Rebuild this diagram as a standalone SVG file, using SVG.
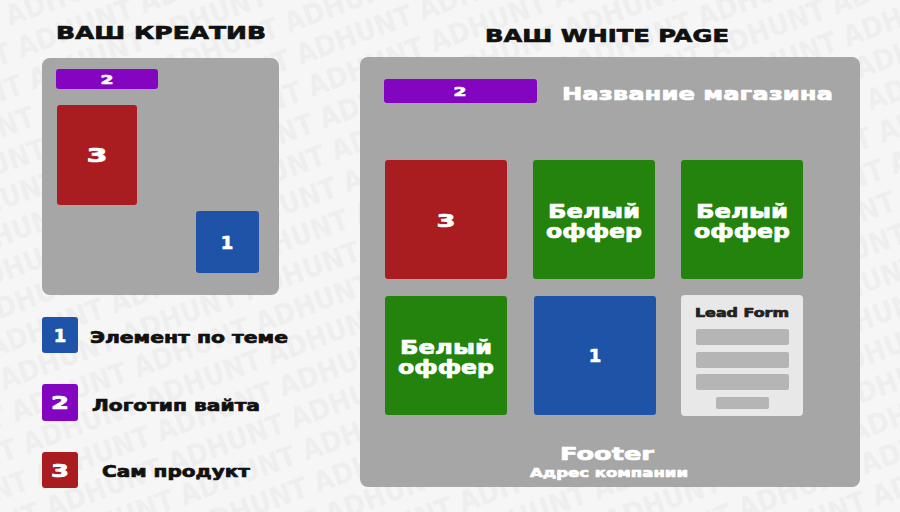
<svg xmlns="http://www.w3.org/2000/svg" width="900" height="512" viewBox="0 0 900 512">
<defs>
<pattern id="wm" width="130" height="34" patternUnits="userSpaceOnUse" patternTransform="rotate(-20)">
<text x="0" y="28" font-family="DejaVu Sans, sans-serif" font-weight="bold" font-size="28" fill="#eeeeee" textLength="122" lengthAdjust="spacingAndGlyphs">ADHUNT</text>
</pattern>
<style>
.t{font-family:"DejaVu Sans","Liberation Sans",sans-serif;font-weight:bold;stroke-width:0.7;stroke-linejoin:round;}
.w{fill:#ffffff;stroke:#ffffff;}
.k{fill:#111111;stroke:#111111;}
.panel{fill:#a6a6a6;}
.pur{fill:#8305bf;}
.red{fill:#a91c20;}
.grn{fill:#23830d;}
.blu{fill:#1f53a8;}
.fld{fill:#b5b5b5;}
</style>
</defs>
<rect width="900" height="512" fill="#f6f6f6"/>
<rect width="900" height="512" fill="url(#wm)"/>

<g id="title-left"><text class="t k" x="56" y="39" font-size="18" textLength="210" lengthAdjust="spacingAndGlyphs">ВАШ КРЕАТИВ</text></g>
<g id="title-right"><text class="t k" x="485" y="42" font-size="18" textLength="244" lengthAdjust="spacingAndGlyphs">ВАШ WHITE PAGE</text></g>

<g id="creative">
<rect class="panel" x="42" y="58" width="237" height="237" rx="8"/>
<g id="c-logo"><rect class="pur" x="56" y="69" width="102" height="20" rx="3"/><text class="t w" x="107" y="84" font-size="13" text-anchor="middle" textLength="13" lengthAdjust="spacingAndGlyphs">2</text></g>
<g id="c-product"><rect class="red" x="57" y="105" width="80" height="100" rx="3"/><text class="t w" x="97" y="162" font-size="20" text-anchor="middle" textLength="21" lengthAdjust="spacingAndGlyphs">3</text></g>
<g id="c-element"><rect class="blu" x="196" y="211" width="63" height="62" rx="3"/><text class="t w" x="227" y="249" font-size="18" text-anchor="middle">1</text></g>
</g>

<g id="legend">
<g id="leg1"><rect class="blu" x="42" y="317" width="36" height="36" rx="3"/><text class="t w" x="60" y="342" font-size="18" text-anchor="middle">1</text><text class="t k" x="90" y="343" font-size="15" textLength="198" lengthAdjust="spacingAndGlyphs">Элемент по теме</text></g>
<g id="leg2"><rect class="pur" x="42" y="384" width="36" height="37" rx="3"/><text class="t w" x="60" y="409" font-size="18" text-anchor="middle" textLength="18" lengthAdjust="spacingAndGlyphs">2</text><text class="t k" x="92" y="411" font-size="15" textLength="168" lengthAdjust="spacingAndGlyphs">Логотип вайта</text></g>
<g id="leg3"><rect class="red" x="42" y="452" width="36" height="36" rx="3"/><text class="t w" x="60" y="477" font-size="18" text-anchor="middle" textLength="18" lengthAdjust="spacingAndGlyphs">3</text><text class="t k" x="102" y="477" font-size="15" textLength="148" lengthAdjust="spacingAndGlyphs">Сам продукт</text></g>
</g>

<g id="whitepage">
<rect class="panel" x="360" y="57" width="500" height="430" rx="8"/>
<g id="wp-logo"><rect class="pur" x="384" y="79" width="153" height="24" rx="3"/><text class="t w" x="460" y="96" font-size="13" text-anchor="middle" textLength="13" lengthAdjust="spacingAndGlyphs">2</text></g>
<g id="wp-name"><text class="t w" x="562" y="100" font-size="18" textLength="271" lengthAdjust="spacingAndGlyphs">Название магазина</text></g>
<g id="wp-product"><rect class="red" x="385" y="160" width="122" height="119" rx="3"/><text class="t w" x="446" y="227" font-size="18" text-anchor="middle" textLength="19" lengthAdjust="spacingAndGlyphs">3</text></g>
<g id="wp-offer1"><rect class="grn" x="533" y="160" width="122" height="119" rx="3"/><text class="t w" x="594" y="218" font-size="19" text-anchor="middle" textLength="92" lengthAdjust="spacingAndGlyphs">Белый</text><text class="t w" x="594" y="238" font-size="19" text-anchor="middle" textLength="96" lengthAdjust="spacingAndGlyphs">оффер</text></g>
<g id="wp-offer2"><rect class="grn" x="681" y="160" width="122" height="119" rx="3"/><text class="t w" x="742" y="218" font-size="19" text-anchor="middle" textLength="92" lengthAdjust="spacingAndGlyphs">Белый</text><text class="t w" x="742" y="238" font-size="19" text-anchor="middle" textLength="96" lengthAdjust="spacingAndGlyphs">оффер</text></g>
<g id="wp-offer3"><rect class="grn" x="385" y="296" width="122" height="119" rx="3"/><text class="t w" x="446" y="354" font-size="19" text-anchor="middle" textLength="92" lengthAdjust="spacingAndGlyphs">Белый</text><text class="t w" x="446" y="374" font-size="19" text-anchor="middle" textLength="96" lengthAdjust="spacingAndGlyphs">оффер</text></g>
<g id="wp-element"><rect class="blu" x="534" y="296" width="122" height="119" rx="3"/><text class="t w" x="595" y="362" font-size="18" text-anchor="middle">1</text></g>
<g id="wp-form"><rect x="681" y="295" width="122" height="121" rx="4" fill="#e8e8e8"/><text class="t" x="742" y="317" font-size="12" fill="#222222" stroke="#222222" stroke-width="0.4" text-anchor="middle" textLength="94" lengthAdjust="spacingAndGlyphs">Lead Form</text><rect class="fld" x="696" y="329" width="93" height="16" rx="2"/><rect class="fld" x="696" y="352" width="93" height="16" rx="2"/><rect class="fld" x="696" y="374" width="93" height="16" rx="2"/><rect class="fld" x="716" y="397" width="53" height="12" rx="2"/></g>
<g id="wp-footer"><text class="t w" x="607" y="460" font-size="17" text-anchor="middle" textLength="94" lengthAdjust="spacingAndGlyphs">Footer</text><text class="t w" x="609" y="477" font-size="12" text-anchor="middle" stroke-width="0.4" textLength="158" lengthAdjust="spacingAndGlyphs">Адрес компании</text></g>
</g>
<g id="connectors"/>
</svg>
